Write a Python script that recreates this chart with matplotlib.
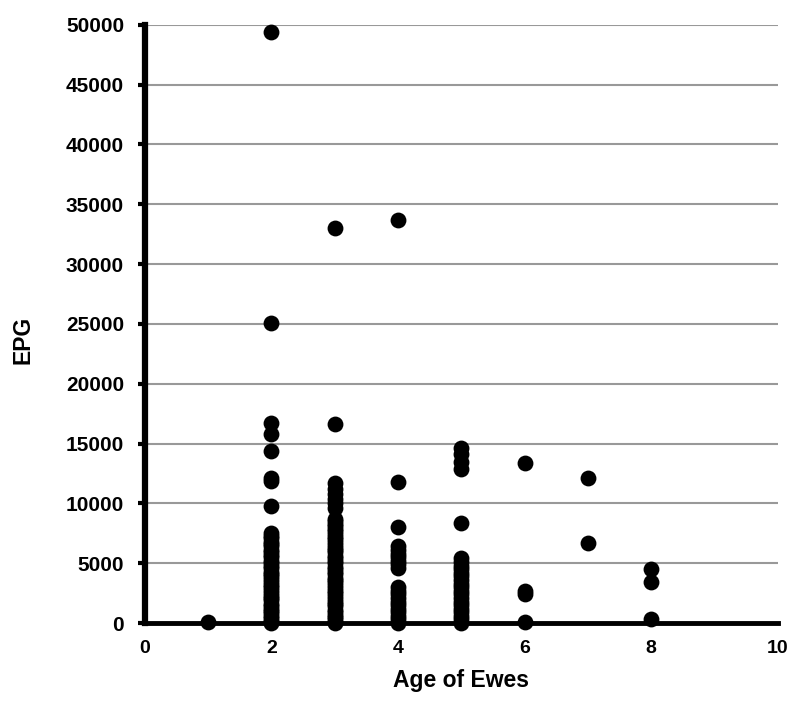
import matplotlib
matplotlib.use("Agg")
import matplotlib.pyplot as plt

plt.rcParams['font.family'] = ['Liberation Sans', 'DejaVu Sans']

# EPG readings per ewe age
age1 = [50]
age2 = [49400, 25100, 16700, 15800, 14400, 12100, 11900, 9800,
        7500, 7300, 7100, 6800, 6600, 6400, 6100, 5900, 5700, 5500,
        5200, 5000, 4800, 4600, 4300, 4100, 3900, 3700, 3400, 3200,
        3000, 2800, 2500, 2300, 2100, 1900, 1600, 1400, 1200, 1000,
        800, 600, 400, 200, 100, 0]
age3 = [33000, 16600, 11700, 11200, 10800, 10400, 10000, 9600,
        8700, 8500, 8300, 8100, 7900, 7700, 7400, 7200, 7000, 6800,
        6500, 6300, 6100, 5900, 5600, 5400, 5200, 5000, 4700, 4500,
        4300, 4100, 3800, 3600, 3400, 3200, 2900, 2700, 2500, 2300,
        2000, 1800, 1600, 1400, 1100, 900, 700, 500, 300, 100, 0]
age4 = [33700, 11800, 8000, 6400, 6100, 5800, 5500, 5200, 4900, 4600,
        3000, 2700, 2400, 2100, 1800, 1500, 1200, 900, 600, 300, 0]
age5 = [14600, 14100, 13500, 12900, 8400,
        5400, 5100, 4800, 4500, 4200, 3900, 3600, 3300, 3000, 2700,
        2400, 2100, 1800, 1500, 1200, 900, 600, 300, 0]
age6 = [13400, 2700, 2400, 100]
age7 = [12100, 6700]
age8 = [4500, 3400, 300]

groups = {1: age1, 2: age2, 3: age3, 4: age4, 5: age5, 6: age6, 7: age7, 8: age8}

xs, ys = [], []
for age, vals in groups.items():
    xs += [age] * len(vals)
    ys += vals

fig = plt.figure(figsize=(7.92, 7.08), dpi=100)
ax = fig.add_axes([0.183, 0.120, 0.799, 0.845])

ax.scatter(xs, ys, s=130, color='black', linewidths=0, zorder=3, clip_on=False)

ax.set_xlim(0, 10)
ax.set_ylim(0, 50000)
ax.set_xticks(range(0, 11, 2))
ax.set_yticks(range(0, 50001, 5000))

ax.grid(axis='y', color='#999999', linewidth=1.5)
ax.set_axisbelow(True)

for side in ['top', 'right']:
    ax.spines[side].set_visible(False)
ax.spines['left'].set_linewidth(4.5)
ax.spines['bottom'].set_linewidth(3.5)

ax.tick_params(axis='y', length=5, width=3, pad=10, labelsize=15)
ax.tick_params(axis='x', length=0, pad=12, labelsize=14)
for lbl in ax.get_xticklabels() + ax.get_yticklabels():
    lbl.set_fontweight('bold')

ax.set_xlabel("Age of Ewes", fontsize=16.5, fontweight='bold')
ax.set_ylabel("EPG", fontsize=16.5, fontweight='bold')
ax.xaxis.set_label_coords(0.5, -0.076)
ax.yaxis.set_label_coords(-0.175, 0.473)

fig.savefig("out.png", dpi=100)
